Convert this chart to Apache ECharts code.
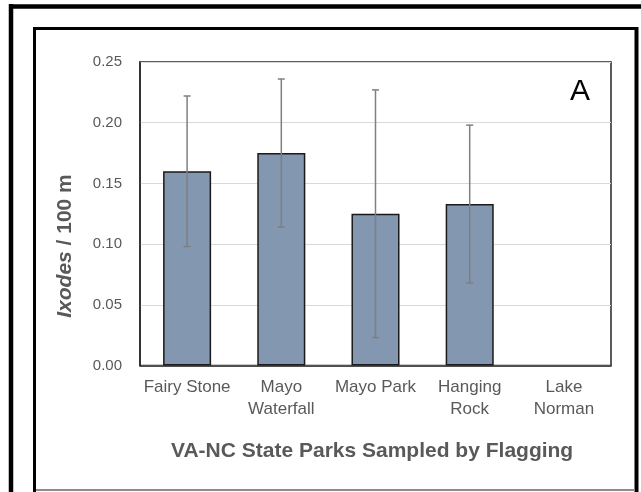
<!DOCTYPE html>
<html>
<head>
<meta charset="utf-8">
<script src="https://cdn.jsdelivr.net/npm/echarts@6/dist/echarts.min.js"></script>
<style>html,body{margin:0;padding:0;background:#fff;}#c{width:641px;height:492px;}</style>
</head>
<body>
<div id="c"></div>
<script>
const categories = ['Fairy Stone', 'Mayo\nWaterfall', 'Mayo Park', 'Hanging\nRock', 'Lake\nNorman'];
const means = [0.160, 0.175, 0.125, 0.133, 0];
const errors = [0.062, 0.061, 0.102, 0.065, null];
const yTicks = [0, 0.05, 0.10, 0.15, 0.20, 0.25];

const FONT = "'Liberation Sans', Arial, sans-serif";
const GRAY = '#595959';

const chart = echarts.init(document.getElementById('c'), null, {renderer: 'canvas'});
const errData = means.map((m, i) => [i, m, errors[i]]);
const barData = means.map(v => v === 0 ? {value: v, itemStyle: {borderWidth: 0}} : v);

chart.setOption({
  animation: false,
  backgroundColor: '#fff',
  textStyle: {fontFamily: FONT},
  grid: {left: 140, right: 30, top: 62, bottom: 126.5, show: true, borderColor: '#262626', borderWidth: 1.5, backgroundColor: 'transparent'},
  title: {
    text: 'VA-NC State Parks Sampled by Flagging',
    left: 166, top: 434,
    textStyle: {fontFamily: FONT, fontSize: 21, fontWeight: 'bold', color: GRAY, lineHeight: 24}
  },
  xAxis: {
    type: 'category',
    data: categories,
    boundaryGap: true,
    axisTick: {show: false},
    axisLine: {show: true, lineStyle: {color: '#262626', width: 1.5}},
    axisLabel: {interval: 0, margin: 11, fontSize: 17, lineHeight: 22, color: GRAY, fontFamily: FONT},
    splitLine: {show: false}
  },
  yAxis: {
    type: 'value',
    min: yTicks[0], max: yTicks[yTicks.length - 1], interval: 0.05,
    axisLine: {show: true, lineStyle: {color: '#262626', width: 1.5}},
    axisTick: {show: false},
    axisLabel: {margin: 18, fontSize: 15, color: GRAY, fontFamily: FONT, formatter: v => v.toFixed(2)},
    splitLine: {show: true, lineStyle: {color: '#d9d9d9', width: 1}}
  },
  series: [
    {
      type: 'bar',
      data: barData,
      barCategoryGap: '49%',
      itemStyle: {color: '#8497B0', borderColor: '#1a1a1a', borderWidth: 1.5},
      z: 2
    },
    {
      type: 'custom',
      data: errData,
      z: 3,
      renderItem: function (params, api) {
        const e = api.value(2);
        if (e === null || e === undefined || isNaN(e)) return null;
        const i = api.value(0), m = api.value(1);
        const hi = api.coord([i, m + e]);
        const lo = api.coord([i, m - e]);
        const hw = 3.5;
        const st = {stroke: '#7f7f7f', lineWidth: 1.5};
        return {
          type: 'group',
          children: [
            {type: 'line', shape: {x1: hi[0], y1: hi[1], x2: lo[0], y2: lo[1]}, style: st},
            {type: 'line', shape: {x1: hi[0] - hw, y1: hi[1], x2: hi[0] + hw, y2: hi[1]}, style: st},
            {type: 'line', shape: {x1: lo[0] - hw, y1: lo[1], x2: lo[0] + hw, y2: lo[1]}, style: st}
          ]
        };
      }
    }
  ],
  graphic: [
    {type: 'line', shape: {x1: 11, y1: 6.5, x2: 645, y2: 6.5}, style: {stroke: '#000', lineWidth: 4.5}},
    {type: 'line', shape: {x1: 11, y1: 4, x2: 11, y2: 495}, style: {stroke: '#000', lineWidth: 4.5}},
    {type: 'line', shape: {x1: 34.5, y1: 28.5, x2: 636, y2: 28.5}, style: {stroke: '#000', lineWidth: 3}},
    {type: 'line', shape: {x1: 34.5, y1: 27, x2: 34.5, y2: 495}, style: {stroke: '#000', lineWidth: 3}},
    {type: 'line', shape: {x1: 636.5, y1: 27, x2: 636.5, y2: 495}, style: {stroke: '#000', lineWidth: 4}},
    {type: 'line', shape: {x1: 36, y1: 490, x2: 635, y2: 490}, style: {stroke: '#8c8c8c', lineWidth: 2}},
    {type: 'text', x: 580, y: 92, style: {text: 'A', fontFamily: FONT, fontSize: 30, fill: '#000', align: 'center', verticalAlign: 'middle'}},
    {
      type: 'text', x: 65.5, y: 246, rotation: Math.PI / 2,
      style: {
        text: '{i|Ixodes} / 100 m',
        fontFamily: FONT, fontSize: 21, fontWeight: 'bold', fill: GRAY,
        align: 'center', verticalAlign: 'middle',
        rich: {i: {fontFamily: FONT, fontSize: 21, fontWeight: 'bold', fontStyle: 'italic', fill: GRAY}}
      }
    }
  ]
});
</script>
</body>
</html>
